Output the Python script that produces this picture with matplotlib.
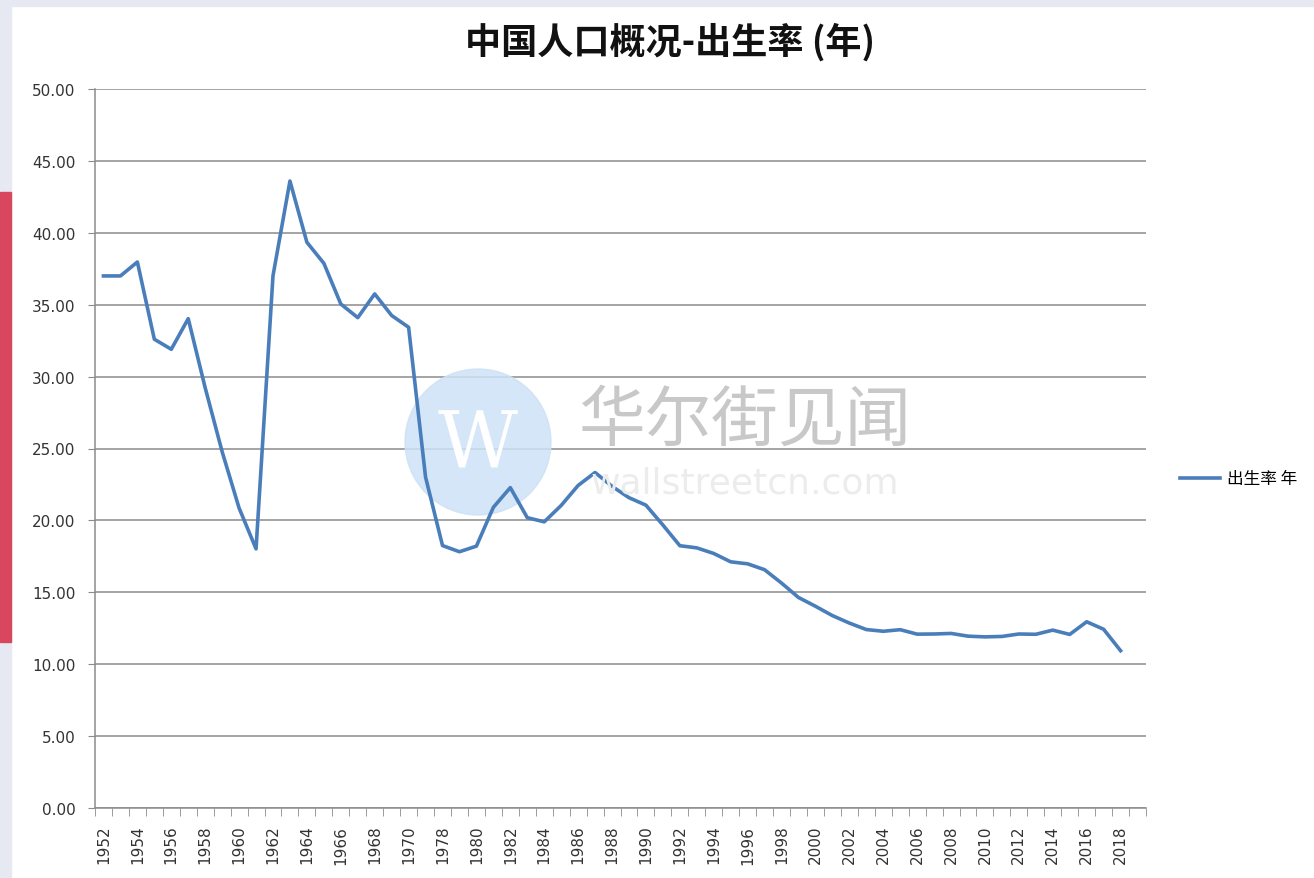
import numpy as np
import matplotlib
matplotlib.use("Agg")
import matplotlib.pyplot as plt
from matplotlib.patches import Rectangle, Circle
from matplotlib.lines import Line2D

plt.rcParams['font.family'] = ['Noto Sans CJK SC', 'DejaVu Sans']

# Daten: Geburtenrate China (Promille)
years = ["1952", "1953", "1954", "1955", "1956", "1957", "1958", "1959", "1960",
         "1961", "1962", "1963", "1964", "1965", "1966", "1967", "1968", "1969",
         "1970", "1975"] + [str(y) for y in range(1978, 2020)]
birth_rate = [37.00, 37.00, 37.97, 32.60, 31.90, 34.03, 29.22, 24.78, 20.86,
              18.02, 37.01, 43.60, 39.34, 37.88, 35.05, 34.10, 35.75, 34.25,
              33.43, 23.01,
              18.25, 17.82, 18.21, 20.91, 22.28, 20.19, 19.90, 21.04, 22.43,
              23.33, 22.37, 21.58, 21.06, 19.68, 18.24, 18.09, 17.70, 17.12,
              16.98, 16.57, 15.64, 14.64, 14.03, 13.38, 12.86, 12.41, 12.29,
              12.40, 12.09, 12.10, 12.14, 11.95, 11.90, 11.93, 12.10, 12.08,
              12.37, 12.07, 12.95, 12.43, 10.94, np.nan]
series_name = "出生率 年"
title = "中国人口概况-出生率 (年)"

W, H = 1314, 879
fig = plt.figure(figsize=(W / 100, H / 100), dpi=100)
fig.patch.set_facecolor("white")

# Rahmen / Hintergrund
fig.patches.append(Rectangle((0, 1 - 7 / H), 1, 7 / H, transform=fig.transFigure,
                             color="#e6e9f2", zorder=0))
fig.patches.append(Rectangle((0, 0), 11 / W, 1, transform=fig.transFigure,
                             color="#e6e9f2", zorder=0))
fig.patches.append(Rectangle((0, 1 - 643 / H), 11 / W, 450 / H, transform=fig.transFigure,
                             color="#d9475e", zorder=1))

ax = fig.add_axes([95 / W, 1 - 809 / H, (1146 - 95) / W, (809 - 90) / H])

x = np.arange(len(years))
ax.plot(x, birth_rate, color="#4a7ebb", linewidth=2.6, zorder=3, label=series_name)

ax.set_xlim(-0.5, len(years) - 0.5)
ax.set_ylim(0, 50)
ax.set_yticks(np.arange(0, 51, 5))
ax.set_yticklabels([f"{v:.2f}" for v in np.arange(0, 51, 5)], fontsize=11,
                   color="#333333", family="DejaVu Sans")
ax.yaxis.grid(True, color="#8c8c8c", linewidth=1.1)
ax.set_axisbelow(True)

ax.set_xticks(x[::2])
ax.set_xticklabels(years[::2], rotation=90, fontsize=11, color="#333333",
                   family="DejaVu Sans")
ax.set_xticks(np.arange(-0.5, len(years), 1), minor=True)
ax.tick_params(axis="x", which="major", length=0, pad=12)
ax.tick_params(axis="x", which="minor", length=6, color="#8c8c8c")
ax.tick_params(axis="y", length=5, color="#8c8c8c", pad=9)

for s in ["top", "right"]:
    ax.spines[s].set_visible(False)
for s in ["left", "bottom"]:
    ax.spines[s].set_color("#8c8c8c")
    ax.spines[s].set_linewidth(1.1)

# Wasserzeichen
ax.add_patch(Circle((478, H - 443), 73, transform=None, color="#cde2f6",
                    alpha=0.85, zorder=1))
fig.text(478 / W, 1 - 446 / H, "W", fontsize=56, color="white", family="DejaVu Serif",
         ha="center", va="center", zorder=2)
fig.text(745 / W, 1 - 422 / H, "华尔街见闻", fontsize=48, color="#c8c8c8",
         ha="center", va="center", zorder=2)
fig.text(745 / W, 1 - 484 / H, "wallstreetcn.com", fontsize=26, color="#ececec",
         family="DejaVu Sans", ha="center", va="center", zorder=2)

fig.text(670 / W, 1 - 42 / H, title, fontsize=26, fontweight="bold",
         ha="center", va="center", color="#111111")

leg = fig.legend(handles=[Line2D([], [], color="#4a7ebb", linewidth=2.6)],
                 labels=[series_name], loc="center left",
                 bbox_to_anchor=(1165 / W, 1 - 480 / H), frameon=False,
                 fontsize=12, handlelength=2.4, handletextpad=0.4)

fig.savefig("out.png", dpi=100)
